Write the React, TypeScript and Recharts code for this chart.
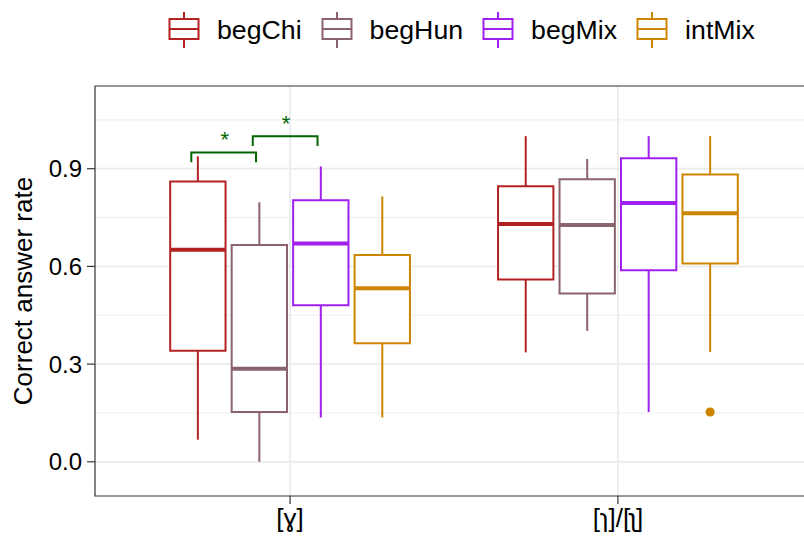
import React from 'react';
import {
	ComposedChart,
	XAxis,
	YAxis,
	CartesianGrid,
	ReferenceArea,
	ReferenceLine,
	Line,
	Scatter,
} from 'recharts';

// learner groups and their colours
const groups = ['begChi', 'begHun', 'begMix', 'intMix'];
const groupColors = ['#B22222', '#8B636C', '#A020F0', '#CD8500'];

// x categories (target sounds)
const sounds = ['[ɣ]', '[ɿ]/[ʅ]'];

// box statistics, one row per sound, one value per group
const whiskerLow = [
	[0.068, 0.0, 0.136, 0.136],
	[0.336, 0.402, 0.153, 0.337],
];
const quart1 = [
	[0.341, 0.153, 0.481, 0.364],
	[0.56, 0.517, 0.588, 0.609],
];
const medians = [
	[0.651, 0.286, 0.67, 0.533],
	[0.73, 0.727, 0.795, 0.763],
];
const quart3 = [
	[0.861, 0.666, 0.803, 0.635],
	[0.846, 0.868, 0.932, 0.882],
];
const whiskerHigh = [
	[0.938, 0.797, 0.907, 0.815],
	[1.0, 0.93, 1.0, 1.0],
];

// outliers: [sound index, group index, value]
const outliers = [[1, 3, 0.153]];

// significance brackets between groups on [ɣ]
const sigPairs = [
	{ sound: 0, from: 0, to: 1, y: 0.95, label: '*' },
	{ sound: 0, from: 1, to: 2, y: 1.0, label: '*' },
];

const yTicks = [0, 0.3, 0.6, 0.9];
const yMinor = [0.15, 0.45, 0.75, 1.05];

const DODGE = 0.1875;
const HALF_BOX = 0.0844;
const FONT = '"Liberation Sans", Arial, Helvetica, sans-serif';
const SIG_COLOR = '#006400';

const xOf = (si: number, gi: number) => si + 1 + (gi - 1.5) * DODGE;

const boxes = sounds.flatMap((_, si) =>
	groups.map((g, gi) => ({
		key: `${si}-${g}`,
		x: xOf(si, gi),
		lo: whiskerLow[si][gi],
		q1: quart1[si][gi],
		med: medians[si][gi],
		q3: quart3[si][gi],
		hi: whiskerHigh[si][gi],
		color: groupColors[gi],
	}))
);

const outlierData = outliers.map(([si, gi, v]) => ({ x: xOf(si, gi), y: v }));

// bracket paths, small tips pointing down
const brackets = sigPairs.map((p) => {
	const x1 = xOf(p.sound, p.from) - 0.02;
	const x2 = xOf(p.sound, p.to) - 0.01;
	return [
		{ x: x1, y: p.y - 0.03 },
		{ x: x1, y: p.y },
		{ x: x2, y: p.y },
		{ x: x2, y: p.y - 0.03 },
	];
});
const starData = sigPairs.map((p) => ({
	x: (xOf(p.sound, p.from) + xOf(p.sound, p.to)) / 2 - 0.012,
	y: p.y + 0.054,
	label: p.label,
}));

const X_DOMAIN: [number, number] = [0.405, 2.595];
const Y_DOMAIN: [number, number] = [-0.105, 1.154];

function LegendKey({ color }: { color: string }) {
	return (
		<svg width={32} height={38} style={{ display: 'block' }}>
			<line x1={16} y1={1} x2={16} y2={37} stroke={color} strokeWidth={2} />
			<rect x={1.5} y={8} width={29} height={20} fill="#fff" stroke={color} strokeWidth={2} />
			<line x1={1.5} y1={18} x2={30.5} y2={18} stroke={color} strokeWidth={2} />
		</svg>
	);
}

export default function App() {
	return (
		<div
			style={{
				position: 'absolute',
				left: 0,
				top: 0,
				width: 804,
				height: 537,
				overflow: 'hidden',
				background: '#fff',
				fontFamily: FONT,
			}}
		>
			<div
				style={{
					position: 'absolute',
					left: 168,
					top: 11,
					display: 'flex',
					alignItems: 'center',
					fontSize: 26.7,
					color: '#000',
					whiteSpace: 'nowrap',
				}}
			>
				{groups.map((g, i) => (
					<div key={g} style={{ display: 'flex', alignItems: 'center', marginRight: 19 }}>
						<LegendKey color={groupColors[i]} />
						<span style={{ marginLeft: 17 }}>{g}</span>
					</div>
				))}
			</div>

			<ComposedChart
				width={813}
				height={537}
				margin={{ top: 86, right: 0, bottom: 0, left: 0 }}
				style={{ position: 'absolute', left: 0, top: 0, fontFamily: FONT }}
			>
				<CartesianGrid
					stroke="#EBEBEB"
					strokeWidth={1.8}
					horizontalValues={yTicks}
					verticalValues={[1, 2]}
				/>
				<CartesianGrid
					stroke="#EBEBEB"
					strokeWidth={0.9}
					vertical={false}
					horizontalValues={yMinor}
				/>
				<XAxis
					dataKey="x"
					type="number"
					domain={X_DOMAIN}
					allowDataOverflow
					ticks={[1, 2]}
					tickFormatter={(v: number) => sounds[Math.round(v) - 1] ?? ''}
					height={41}
					axisLine={false}
					tickSize={8}
					tickMargin={5}
					tickLine={{ stroke: '#333', strokeWidth: 1.2 }}
					tick={{ fill: '#000', fontSize: 26 }}
				/>
				<YAxis
					type="number"
					domain={Y_DOMAIN}
					allowDataOverflow
					ticks={yTicks}
					tickFormatter={(v: number) => v.toFixed(1)}
					width={95}
					axisLine={false}
					tickSize={8}
					tickMargin={5}
					tickLine={{ stroke: '#333', strokeWidth: 1.2 }}
					tick={{ fill: '#000', fontSize: 24 }}
					label={{
						value: 'Correct answer rate',
						angle: -90,
						position: 'insideLeft',
						offset: 23,
						fill: '#000',
						fontSize: 26,
						style: { textAnchor: 'middle' },
					}}
				/>

				{/* panel border */}
				<ReferenceArea
					x1={X_DOMAIN[0]}
					x2={X_DOMAIN[1]}
					y1={Y_DOMAIN[0]}
					y2={Y_DOMAIN[1]}
					fill="none"
					stroke="#333"
					strokeWidth={1.2}
					ifOverflow="visible"
				/>

				{/* whiskers */}
				{boxes.map((b) => (
					<ReferenceLine
						key={`wl-${b.key}`}
						segment={[
							{ x: b.x, y: b.lo },
							{ x: b.x, y: b.q1 },
						]}
						stroke={b.color}
						strokeWidth={2}
					/>
				))}
				{boxes.map((b) => (
					<ReferenceLine
						key={`wh-${b.key}`}
						segment={[
							{ x: b.x, y: b.q3 },
							{ x: b.x, y: b.hi },
						]}
						stroke={b.color}
						strokeWidth={2}
					/>
				))}

				{/* boxes */}
				{boxes.map((b) => (
					<ReferenceArea
						key={`box-${b.key}`}
						x1={b.x - HALF_BOX}
						x2={b.x + HALF_BOX}
						y1={b.q1}
						y2={b.q3}
						fill="#fff"
						fillOpacity={1}
						stroke={b.color}
						strokeWidth={2}
					/>
				))}

				{/* medians */}
				{boxes.map((b) => (
					<ReferenceLine
						key={`med-${b.key}`}
						segment={[
							{ x: b.x - HALF_BOX, y: b.med },
							{ x: b.x + HALF_BOX, y: b.med },
						]}
						stroke={b.color}
						strokeWidth={4}
					/>
				))}

				<Scatter
					data={outlierData}
					dataKey="y"
					isAnimationActive={false}
					shape={(p: any) => <circle cx={p.cx} cy={p.cy} r={4.6} fill={groupColors[3]} />}
				/>

				{brackets.map((br, i) => (
					<Line
						key={`br-${i}`}
						data={br}
						dataKey="y"
						stroke={SIG_COLOR}
						strokeWidth={2}
						dot={false}
						activeDot={false}
						type="linear"
						isAnimationActive={false}
					/>
				))}

				<Scatter
					data={starData}
					dataKey="y"
					isAnimationActive={false}
					shape={(p: any) => (
						<text
							x={p.cx}
							y={p.cy + 12}
							textAnchor="middle"
							fontSize={22}
							fill={SIG_COLOR}
							fontFamily={FONT}
						>
							{p.payload.label}
						</text>
					)}
				/>
			</ComposedChart>
		</div>
	);
}
